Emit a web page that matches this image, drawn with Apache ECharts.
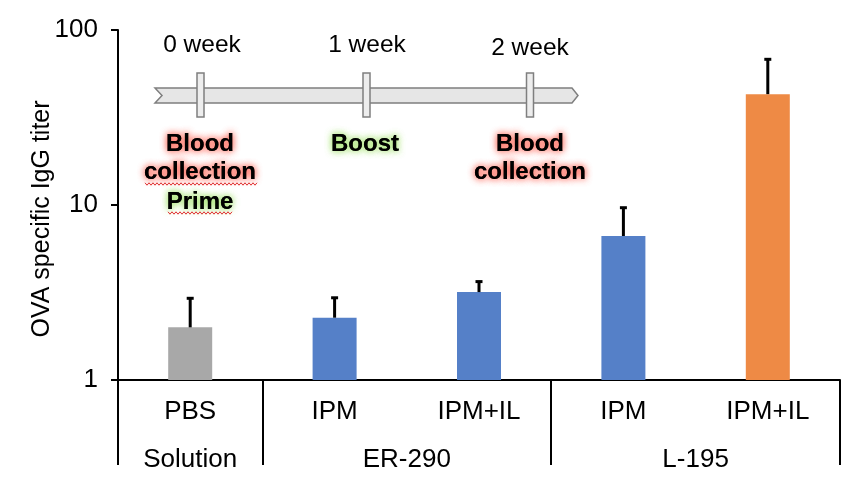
<!DOCTYPE html>
<html>
<head>
<meta charset="utf-8">
<script src="https://cdn.jsdelivr.net/npm/echarts@6/dist/echarts.min.js"></script>
<style>
html,body{margin:0;padding:0;background:#fff;}
#chart{width:867px;height:504px;}
</style>
</head>
<body>
<div id="chart"></div>
<script>
// ---- data ----
var treatments = ['PBS', 'IPM', 'IPM+IL', 'IPM', 'IPM+IL'];
var groups = ['Solution', 'ER-290', 'L-195'];
var groupCenters = [0.5, 2, 4];      // in category units
var groupBounds = [0, 1, 3, 5];      // separators in category units
var means = [2.0, 2.27, 3.18, 6.65, 43.0];
var errors = [0.93, 0.68, 0.47, 3.0, 25.0];
var yTicks = [1, 10, 100];
var weekLabels = ['0 week', '1 week', '2 week'];
var eventLabels = [['Blood', 'collection', 'Prime'], ['Boost'], ['Blood', 'collection']];
var barColors = ['#A8A8A8', '#5580C8', '#5580C8', '#5580C8', '#EE8A45'];

var FONT = '"Liberation Sans", Arial, Helvetica, sans-serif';
var chart = echarts.init(document.getElementById('chart'));

var barData = means.map(function (v, i) {
  return { value: v, itemStyle: { color: barColors[i] } };
});
var errData = means.map(function (v, i) { return [i, v, v + errors[i]]; });

// ---- timeline graphic (annotation) ----
var G = [];
G.push({
  type: 'polygon', z: 10,
  shape: { points: [[155, 88], [572, 88], [578, 95.5], [572, 103], [155, 103], [162, 95.5]] },
  style: { fill: '#E6E6E6', stroke: '#7F7F7F', lineWidth: 1.5 }
});
var markerX = [200.5, 366.5, 530];
markerX.forEach(function (mx) {
  G.push({ type: 'rect', z: 11, shape: { x: mx - 3.5, y: 73, width: 7, height: 44 },
    style: { fill: '#EDEDED', stroke: '#7F7F7F', lineWidth: 1.5 } });
});
var weekPos = [[202, 45], [367, 45], [530, 48]];
weekLabels.forEach(function (t, i) {
  G.push({ type: 'text', z: 12, x: weekPos[i][0], y: weekPos[i][1],
    style: { text: t, fill: '#000', font: '24.5px ' + FONT, align: 'center', verticalAlign: 'middle' } });
});
var evX = [200, 365, 530];
var glowRed = 'rgba(255,60,40,0.7)', glowGreen = 'rgba(140,220,70,0.7)';
var evGlow = [[glowRed, glowRed, glowGreen], [glowGreen], [glowRed, glowRed]];
var evY = [144, 172, 202];
eventLabels.forEach(function (lines, i) {
  lines.forEach(function (t, j) {
    for (var k = 0; k < 2; k++) {
      G.push({ type: 'text', z: 12, x: evX[i], y: evY[j],
        style: { text: t, fill: '#000', font: 'bold 24px ' + FONT, align: 'center', verticalAlign: 'middle',
          textShadowColor: evGlow[i][j], textShadowBlur: 7 } });
    }
  });
});
function wavy(x0, x1, y) {
  var pts = [], n = 0;
  for (var x = x0; x <= x1; x += 2) { pts.push([x, y + (n % 2 ? 1.2 : -1.2)]); n++; }
  return { type: 'polyline', z: 12, shape: { points: pts }, style: { stroke: '#E03030', lineWidth: 1, fill: null } };
}
G.push(wavy(145, 257, 184));
G.push(wavy(168, 233, 213));
// y axis title
G.push({ type: 'text', z: 12, x: 42, y: 219, rotation: Math.PI / 2,
  style: { text: 'OVA specific IgG titer', fill: '#000', font: '25px ' + FONT, align: 'center', verticalAlign: 'middle' } });

var option = {
  backgroundColor: '#fff',
  animation: false,
  grid: { left: 118, right: 27, top: 30, bottom: 124, containLabel: false },
  xAxis: [{
    type: 'category', data: treatments, position: 'bottom',
    axisLine: { show: true, lineStyle: { color: '#000', width: 2 } },
    axisTick: { show: false },
    axisLabel: { color: '#000', fontSize: 26, fontFamily: FONT, margin: 19 }
  }, {
    type: 'value', min: 0, max: 5, position: 'bottom',
    axisLine: { show: false },
    splitLine: { show: false },
    axisTick: { show: true, customValues: groupBounds, length: 85, inside: false, lineStyle: { color: '#000', width: 2 } },
    axisLabel: { show: true, customValues: groupCenters, color: '#000', fontSize: 26, fontFamily: FONT, margin: 67,
      formatter: function (v) { return groups[groupCenters.indexOf(v)]; } }
  }],
  yAxis: {
    type: 'log', logBase: 10, min: 1, max: 100,
    axisLine: { show: true, lineStyle: { color: '#000', width: 2 } },
    axisTick: { show: true, length: 7, lineStyle: { color: '#000', width: 2 } },
    splitLine: { show: false },
    minorTick: { show: false },
    axisLabel: { color: '#000', fontSize: 26, fontFamily: FONT, margin: 20,
      customValues: yTicks, formatter: function (v) { return String(Math.round(v)); } }
  },
  series: [{
    type: 'bar', data: barData, barWidth: 44, xAxisIndex: 0, z: 2
  }, {
    type: 'custom', xAxisIndex: 0, z: 3, data: errData,
    renderItem: function (params, api) {
      var x = api.value(0);
      var p0 = api.coord([x, api.value(1)]);
      var p1 = api.coord([x, api.value(2)]);
      var cw = 3.5;
      return { type: 'group', children: [
        { type: 'line', shape: { x1: p0[0], y1: p0[1], x2: p1[0], y2: p1[1] }, style: { stroke: '#000', lineWidth: 3 } },
        { type: 'line', shape: { x1: p1[0] - cw, y1: p1[1], x2: p1[0] + cw, y2: p1[1] }, style: { stroke: '#000', lineWidth: 3 } }
      ] };
    }
  }],
  graphic: G
};
chart.setOption(option);
</script>
</body>
</html>
